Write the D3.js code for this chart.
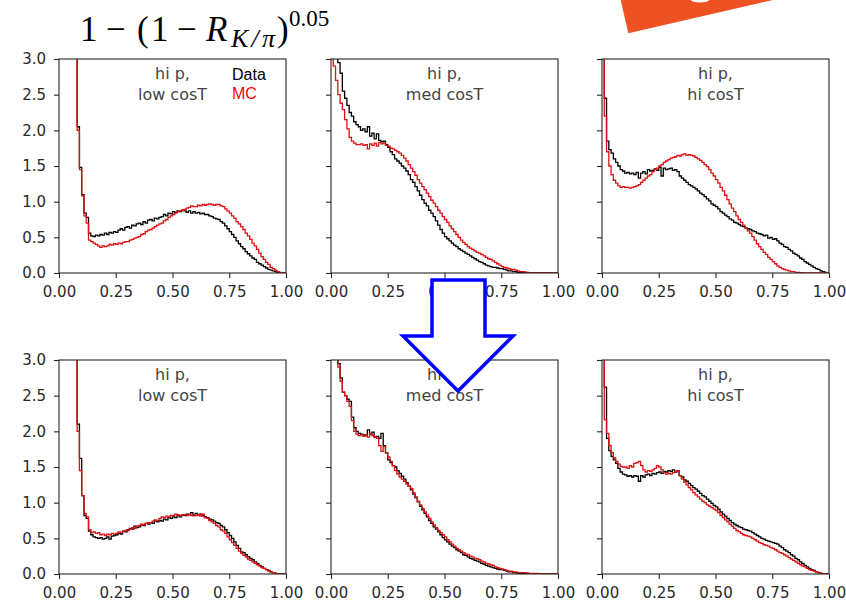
<!DOCTYPE html>
<html>
<head>
<meta charset="utf-8">
<script src="https://cdn.jsdelivr.net/npm/d3@7"></script>
<style>
  html, body { margin: 0; padding: 0; background: #fff; }
  svg { display: block; }
</style>
</head>
<body>
<svg id="fig" width="846" height="602"></svg>
<script>
// Normalised histograms of 1-(1-R_K/pi)^0.05, 100 bins on [0,1].
// Top row: before MC reweighting, bottom row: after.

const xTicks = [0, 0.25, 0.5, 0.75, 1.0];
const yTicks = [0, 0.5, 1.0, 1.5, 2.0, 2.5, 3.0];

const panelLabels = [
  ["hi p,", "low cosT"],
  ["hi p,", "med cosT"],
  ["hi p,", "hi cosT"]
];
const legendLabels = ["Data", "MC"];

// --- top row (before) ---
const dataLowBefore = [
  6, 6, 6, 6, 6, 6, 6, 3.6, 2.05, 1.48,
  1.1, 0.84, 0.78, 0.56, 0.52, 0.51, 0.53, 0.52, 0.54, 0.53,
  0.56, 0.54, 0.57, 0.56, 0.58, 0.57, 0.6, 0.62, 0.6, 0.64,
  0.65, 0.63, 0.67, 0.66, 0.69, 0.7, 0.68, 0.72, 0.7, 0.74,
  0.75, 0.73, 0.77, 0.76, 0.78, 0.79, 0.82, 0.8, 0.84, 0.83,
  0.86, 0.85, 0.87, 0.86, 0.88, 0.87, 0.85, 0.87, 0.84, 0.86,
  0.84, 0.85, 0.83, 0.84, 0.82, 0.82, 0.8, 0.79, 0.77, 0.76,
  0.75, 0.72, 0.7, 0.66, 0.62, 0.58, 0.54, 0.5, 0.45, 0.41,
  0.37, 0.34, 0.3, 0.27, 0.24, 0.21, 0.19, 0.15, 0.13, 0.11,
  0.09, 0.07, 0.05, 0.04, 0.03, 0.02, 0.01, 0.005, 0, 0
];
const mcLowBefore = [
  6, 6, 6, 6, 6, 6, 6, 3.6, 2.0, 1.45,
  1.08, 0.8, 0.7, 0.46, 0.44, 0.42, 0.4, 0.38, 0.36, 0.38,
  0.37, 0.38, 0.4, 0.39, 0.41, 0.4, 0.42, 0.41, 0.43, 0.44,
  0.44, 0.46, 0.47, 0.49, 0.5, 0.51, 0.54, 0.55, 0.58, 0.6,
  0.61, 0.63, 0.65, 0.67, 0.69, 0.7, 0.73, 0.75, 0.78, 0.8,
  0.82, 0.84, 0.86, 0.87, 0.88, 0.89, 0.91, 0.92, 0.94, 0.93,
  0.93, 0.95, 0.94, 0.96, 0.95, 0.96, 0.97, 0.96, 0.95, 0.96,
  0.96, 0.94, 0.93, 0.9, 0.87, 0.84, 0.8, 0.77, 0.72, 0.69,
  0.65, 0.61, 0.56, 0.52, 0.47, 0.42, 0.38, 0.33, 0.28, 0.23,
  0.19, 0.15, 0.12, 0.08, 0.06, 0.04, 0.02, 0.01, 0, 0
];
const dataMedBefore = [
  6, 6, 6, 2.95, 2.8, 2.55, 2.45, 2.35, 2.25, 2.2,
  2.12, 2.08, 2.05, 2.0, 2.02, 1.98, 2.05, 1.92, 1.96, 1.88,
  1.95, 1.86, 1.84, 1.85, 1.8, 1.76, 1.7, 1.66, 1.6, 1.57,
  1.54, 1.5, 1.47, 1.43, 1.38, 1.31, 1.27, 1.21, 1.15, 1.09,
  1.03, 0.98, 0.94, 0.88, 0.84, 0.79, 0.73, 0.67, 0.61, 0.56,
  0.51, 0.48, 0.45, 0.42, 0.39, 0.37, 0.34, 0.32, 0.3, 0.28,
  0.26, 0.24, 0.22, 0.2, 0.18, 0.16, 0.15, 0.13, 0.11, 0.1,
  0.09, 0.08, 0.08, 0.07, 0.06, 0.06, 0.05, 0.04, 0.03, 0.03,
  0.02, 0.02, 0.01, 0.01, 0.01, 0.005, 0, 0, 0, 0,
  0, 0, 0, 0, 0, 0, 0, 0, 0, 0
];
const mcMedBefore = [
  3.5, 2.9, 2.7, 2.5, 2.38, 2.29, 2.15, 2.02, 1.9, 1.85,
  1.82, 1.8, 1.8, 1.81, 1.79, 1.8, 1.74, 1.81, 1.79, 1.82,
  1.78, 1.83, 1.81, 1.82, 1.79, 1.78, 1.75, 1.74, 1.72, 1.7,
  1.68, 1.65, 1.61, 1.57, 1.52, 1.47, 1.42, 1.37, 1.31, 1.26,
  1.21, 1.17, 1.12, 1.07, 1.02, 0.98, 0.93, 0.88, 0.84, 0.79,
  0.75, 0.71, 0.66, 0.62, 0.58, 0.54, 0.5, 0.46, 0.43, 0.4,
  0.37, 0.35, 0.33, 0.31, 0.29, 0.28, 0.26, 0.24, 0.22, 0.2,
  0.19, 0.17, 0.15, 0.13, 0.11, 0.09, 0.08, 0.07, 0.06, 0.05,
  0.05, 0.04, 0.03, 0.02, 0.02, 0.015, 0.01, 0.005, 0, 0,
  0, 0, 0, 0, 0, 0, 0, 0, 0, 0
];
const dataHiBefore = [
  4, 2.45, 1.85, 1.73, 1.68, 1.6, 1.55, 1.5, 1.45, 1.43,
  1.4, 1.41, 1.39, 1.4, 1.38, 1.41, 1.33, 1.4, 1.42, 1.39,
  1.45, 1.43, 1.44, 1.46, 1.44, 1.48, 1.36, 1.47, 1.45, 1.46,
  1.47, 1.44, 1.45, 1.42, 1.36, 1.33, 1.3, 1.27, 1.24, 1.22,
  1.2, 1.18, 1.15, 1.12, 1.1, 1.07, 1.04, 1.01, 0.97, 0.95,
  0.93, 0.9, 0.86, 0.84, 0.81, 0.79, 0.76, 0.74, 0.71, 0.7,
  0.68, 0.66, 0.65, 0.63, 0.62, 0.61, 0.59, 0.58, 0.56, 0.55,
  0.54, 0.52, 0.53, 0.49, 0.5, 0.47, 0.48, 0.45, 0.42, 0.4,
  0.37, 0.36, 0.33, 0.31, 0.28, 0.26, 0.24, 0.21, 0.19, 0.16,
  0.14, 0.12, 0.1, 0.08, 0.06, 0.05, 0.03, 0.02, 0.01, 0
];
const mcHiBefore = [
  4, 2.2, 1.7, 1.5, 1.38, 1.3, 1.26, 1.22, 1.2, 1.21,
  1.2, 1.2, 1.19, 1.2, 1.21, 1.22, 1.24, 1.27, 1.3, 1.33,
  1.36, 1.38, 1.42, 1.45, 1.47, 1.5, 1.52, 1.55, 1.57, 1.59,
  1.61, 1.62, 1.63, 1.65, 1.64, 1.66, 1.67, 1.65, 1.66, 1.65,
  1.64, 1.62, 1.6, 1.58, 1.55, 1.52, 1.49, 1.45, 1.4, 1.36,
  1.31, 1.26, 1.2, 1.15, 1.09, 1.03, 0.97, 0.91, 0.86, 0.8,
  0.75, 0.71, 0.67, 0.63, 0.59, 0.56, 0.51, 0.46, 0.41, 0.37,
  0.33, 0.29, 0.26, 0.22, 0.19, 0.16, 0.13, 0.1, 0.08, 0.06,
  0.05, 0.04, 0.03, 0.02, 0.02, 0.01, 0.01, 0.005, 0, 0,
  0, 0, 0, 0, 0, 0, 0, 0, 0, 0
];

// --- bottom row (after reweighting) ---
const dataLowAfter = [
  6, 6, 6, 6, 6, 6, 6, 3.6, 2.1, 1.62,
  1.1, 0.82, 0.78, 0.6, 0.55, 0.52, 0.51, 0.5, 0.51, 0.49,
  0.5, 0.52, 0.49, 0.53, 0.54, 0.55, 0.57, 0.56, 0.6, 0.59,
  0.62, 0.64, 0.63, 0.67, 0.65, 0.66, 0.69, 0.68, 0.71, 0.7,
  0.72, 0.71, 0.74, 0.73, 0.75, 0.74, 0.77, 0.76, 0.79, 0.78,
  0.8, 0.79, 0.82, 0.8, 0.83, 0.82, 0.84, 0.83, 0.86, 0.82,
  0.85, 0.83, 0.84, 0.82, 0.8, 0.79, 0.77, 0.76, 0.74, 0.72,
  0.71, 0.68, 0.66, 0.62, 0.58, 0.54, 0.5, 0.45, 0.4, 0.36,
  0.31, 0.3, 0.27, 0.24, 0.22, 0.2, 0.17, 0.15, 0.12, 0.1,
  0.08, 0.06, 0.05, 0.03, 0.02, 0.01, 0, 0, 0, 0
];
const mcLowAfter = [
  6, 6, 6, 6, 6, 6, 6, 3.6, 2.0, 1.45,
  1.1, 0.85, 0.8, 0.62, 0.58, 0.59, 0.57, 0.58, 0.55, 0.56,
  0.54, 0.56, 0.55, 0.57, 0.56, 0.57, 0.59, 0.58, 0.6, 0.61,
  0.61, 0.63, 0.65, 0.64, 0.67, 0.68, 0.7, 0.69, 0.71, 0.72,
  0.72, 0.74, 0.76, 0.75, 0.78, 0.8, 0.79, 0.81, 0.8, 0.82,
  0.82, 0.84, 0.83, 0.82, 0.83, 0.83, 0.82, 0.84, 0.82, 0.83,
  0.82, 0.83, 0.81, 0.84, 0.79, 0.78, 0.75, 0.73, 0.71, 0.68,
  0.66, 0.62, 0.6, 0.57, 0.52, 0.48, 0.44, 0.4, 0.36, 0.32,
  0.29, 0.26, 0.24, 0.21, 0.19, 0.17, 0.15, 0.13, 0.11, 0.09,
  0.08, 0.06, 0.04, 0.03, 0.02, 0.01, 0, 0, 0, 0
];
const dataMedAfter = [
  4, 4, 3.5, 2.95, 2.75, 2.55, 2.5, 2.45, 2.42, 2.2,
  2.05, 2.0, 1.97, 1.96, 1.95, 1.94, 2.02, 1.96, 1.99, 1.92,
  1.93, 1.9, 1.97, 1.8, 1.7, 1.6, 1.56, 1.52, 1.5, 1.45,
  1.41, 1.37, 1.33, 1.28, 1.23, 1.18, 1.12, 1.07, 1.01, 0.95,
  0.9, 0.85, 0.8, 0.75, 0.71, 0.66, 0.63, 0.59, 0.55, 0.51,
  0.48, 0.45, 0.42, 0.39, 0.37, 0.34, 0.32, 0.3, 0.27, 0.26,
  0.24, 0.22, 0.21, 0.19, 0.18, 0.17, 0.15, 0.14, 0.12, 0.11,
  0.1, 0.09, 0.08, 0.07, 0.06, 0.06, 0.05, 0.04, 0.03, 0.03,
  0.02, 0.02, 0.01, 0.01, 0.01, 0.005, 0, 0, 0, 0,
  0, 0, 0, 0, 0, 0, 0, 0, 0, 0
];
const mcMedAfter = [
  4, 4, 3.3, 2.9, 2.7, 2.55, 2.5, 2.42, 2.35, 2.15,
  2.0, 1.96, 1.94, 1.95, 1.93, 1.95, 1.92, 1.97, 1.94, 1.92,
  1.9, 1.8, 1.72, 1.79, 1.7, 1.64, 1.58, 1.52, 1.45, 1.4,
  1.36, 1.33, 1.3, 1.26, 1.23, 1.2, 1.14, 1.08, 1.02, 0.97,
  0.92, 0.87, 0.83, 0.78, 0.73, 0.69, 0.65, 0.61, 0.58, 0.55,
  0.52, 0.48, 0.45, 0.42, 0.39, 0.36, 0.34, 0.32, 0.3, 0.28,
  0.27, 0.25, 0.24, 0.22, 0.21, 0.2, 0.18, 0.17, 0.15, 0.14,
  0.13, 0.12, 0.1, 0.09, 0.08, 0.07, 0.06, 0.05, 0.04, 0.04,
  0.03, 0.03, 0.02, 0.02, 0.02, 0.02, 0.015, 0.01, 0.01, 0.01,
  0.01, 0.005, 0.005, 0, 0, 0, 0, 0, 0, 0
];
const dataHiAfter = [
  4, 2.62, 1.9, 1.73, 1.65, 1.6, 1.55, 1.48, 1.43, 1.4,
  1.39, 1.37, 1.38, 1.36, 1.38, 1.37, 1.3, 1.38, 1.36, 1.39,
  1.4, 1.38, 1.41, 1.4, 1.42, 1.43, 1.41, 1.44, 1.43, 1.45,
  1.44, 1.46, 1.43, 1.45, 1.38, 1.36, 1.32, 1.3, 1.27, 1.24,
  1.21, 1.19, 1.16, 1.13, 1.1, 1.08, 1.05, 1.02, 0.99, 0.96,
  0.94, 0.91, 0.87, 0.84, 0.81, 0.78, 0.75, 0.72, 0.7, 0.68,
  0.66, 0.65, 0.63, 0.62, 0.61, 0.6, 0.58, 0.56, 0.54, 0.52,
  0.5, 0.49, 0.47, 0.46, 0.45, 0.44, 0.43, 0.42, 0.39, 0.37,
  0.34, 0.32, 0.3, 0.27, 0.25, 0.22, 0.2, 0.17, 0.15, 0.12,
  0.1, 0.08, 0.06, 0.05, 0.03, 0.02, 0.01, 0.005, 0, 0
];
const mcHiAfter = [
  4, 2.16, 1.97, 1.8, 1.7, 1.63, 1.58, 1.54, 1.51, 1.5,
  1.5, 1.48, 1.52, 1.5, 1.55, 1.56, 1.58, 1.52, 1.46, 1.43,
  1.45, 1.44, 1.46, 1.48, 1.52, 1.5, 1.46, 1.42, 1.4, 1.41,
  1.4, 1.42, 1.44, 1.45, 1.38, 1.33, 1.29, 1.25, 1.21, 1.18,
  1.14, 1.11, 1.08, 1.05, 1.02, 1.0, 0.97, 0.95, 0.93, 0.91,
  0.89, 0.86, 0.82, 0.79, 0.76, 0.73, 0.7, 0.67, 0.64, 0.61,
  0.59, 0.57, 0.55, 0.54, 0.53, 0.52, 0.5, 0.48, 0.46, 0.44,
  0.43, 0.41, 0.4, 0.39, 0.37, 0.36, 0.34, 0.32, 0.3, 0.29,
  0.27, 0.25, 0.23, 0.21, 0.19, 0.17, 0.15, 0.13, 0.11, 0.1,
  0.08, 0.06, 0.05, 0.04, 0.03, 0.02, 0.01, 0.005, 0, 0
];

const panels = [
  { row: 0, col: 0, data: dataLowBefore, mc: mcLowBefore, legend: true },
  { row: 0, col: 1, data: dataMedBefore, mc: mcMedBefore },
  { row: 0, col: 2, data: dataHiBefore,  mc: mcHiBefore },
  { row: 1, col: 0, data: dataLowAfter,  mc: mcLowAfter },
  { row: 1, col: 1, data: dataMedAfter,  mc: mcMedAfter },
  { row: 1, col: 2, data: dataHiAfter,   mc: mcHiAfter }
];

// layout
const colLeft = [59, 331, 602];
const rowTop = [59, 360];
const pw = 227, ph = 214;

const svg = d3.select("#fig");
svg.append("rect").attr("width", 846).attr("height", 602).attr("fill", "#fff");

const x = d3.scaleLinear().domain([0, 1]).range([0, pw]);
const y = d3.scaleLinear().domain([0, 3]).range([ph, 0]);

// step outline of a histogram: flat top over each bin, vertical jumps at edges
function stepPoints(vals) {
  const n = vals.length, w = 1 / n;
  const pts = [];
  vals.forEach((v, i) => { pts.push([i * w, v]); pts.push([(i + 1) * w, v]); });
  return pts;
}
const line = d3.line().x(d => x(d[0])).y(d => y(d[1]));

const tickFont = "'DejaVu Sans', sans-serif";

panels.forEach((p, k) => {
  const g = svg.append("g")
    .attr("transform", `translate(${colLeft[p.col]},${rowTop[p.row]})`);

  const clipId = "clip" + k;
  g.append("clipPath").attr("id", clipId)
    .append("rect").attr("width", pw).attr("height", ph);

  g.append("rect").attr("width", pw).attr("height", ph).attr("fill", "#fff");

  const plot = g.append("g").attr("clip-path", `url(#${clipId})`);
  plot.append("path").datum(stepPoints(p.data))
    .attr("d", line).attr("fill", "none")
    .attr("stroke", "#000").attr("stroke-width", 1.3);
  plot.append("path").datum(stepPoints(p.mc))
    .attr("d", line).attr("fill", "none")
    .attr("stroke", "#e01010").attr("stroke-width", 1.3);

  // axes
  const xa = g.append("g").attr("transform", `translate(0,${ph})`)
    .call(d3.axisBottom(x).tickValues(xTicks).tickFormat(d3.format(".2f"))
      .tickSize(5).tickPadding(8));
  const ya = g.append("g")
    .call(d3.axisLeft(y).tickValues(yTicks)
      .tickFormat(p.col === 0 ? d3.format(".1f") : () => "")
      .tickSize(5).tickPadding(8));
  [xa, ya].forEach(a => {
    a.select(".domain").remove();
    a.selectAll(".tick line").attr("stroke", "#262626").attr("stroke-width", 1.1);
    a.selectAll(".tick text").attr("fill", "#2a2a2a")
      .style("font-family", tickFont).style("font-size", "15px");
  });

  // frame
  g.append("rect").attr("width", pw).attr("height", ph)
    .attr("fill", "none").attr("stroke", "#262626").attr("stroke-width", 1.1);

  // panel label
  const lbl = panelLabels[p.col];
  lbl.forEach((t, i) => {
    g.append("text").attr("x", pw / 2).attr("y", 20 + i * 21)
      .attr("text-anchor", "middle")
      .attr("fill", "#444")
      .style("font-family", tickFont).style("font-size", "16px")
      .text(t);
  });

  if (p.legend) {
    const colors = ["#000", "#ff0000"];
    legendLabels.forEach((t, i) => {
      g.append("text").attr("x", 173).attr("y", 21 + i * 19)
        .attr("fill", colors[i])
        .style("font-family", "'Liberation Sans', Arial, sans-serif")
        .style("font-size", "16px")
        .text(t);
    });
  }
});

// formula heading
const serif = "'Liberation Serif', 'Times New Roman', serif";
const title = svg.append("g").style("font-family", serif).attr("fill", "#000");
const tparts = [
  { t: "1", x: 80, y: 41, s: 35 },
  { t: "\u2212", x: 106, y: 41, s: 35 },
  { t: "(", x: 137, y: 41, s: 35 },
  { t: "1", x: 151, y: 41, s: 35 },
  { t: "\u2212", x: 177, y: 41, s: 35 },
  { t: "R", x: 206, y: 41, s: 35, it: true },
  { t: "K/\u03c0", x: 231, y: 47, s: 26, it: true, len: 44 },
  { t: ")", x: 277, y: 41, s: 35 },
  { t: "0.05", x: 289, y: 26, s: 23 }
];
tparts.forEach(d => {
  const t = title.append("text").attr("x", d.x).attr("y", d.y)
    .style("font-size", d.s + "px")
    .style("font-style", d.it ? "italic" : "normal")
    .text(d.t);
  if (d.len) t.attr("textLength", d.len).attr("lengthAdjust", "spacing");
});

// orange banner corner
svg.append("path")
  .attr("d", "M620.7,0 L628.3,33.3 L773,0 Z")
  .attr("fill", "#ef5222");
svg.append("ellipse").attr("cx", 700).attr("cy", -1).attr("rx", 10).attr("ry", 3.6)
  .attr("fill", "#fff");

// hollow down arrow between the rows
svg.append("path")
  .attr("d", "M432,280 L485,280 L485,336 L513,336 L458,391 L403,336 L432,336 Z")
  .attr("fill", "#fff")
  .attr("stroke", "#0000ff")
  .attr("stroke-width", 3.5)
  .attr("stroke-linejoin", "miter");
</script>
</body>
</html>
